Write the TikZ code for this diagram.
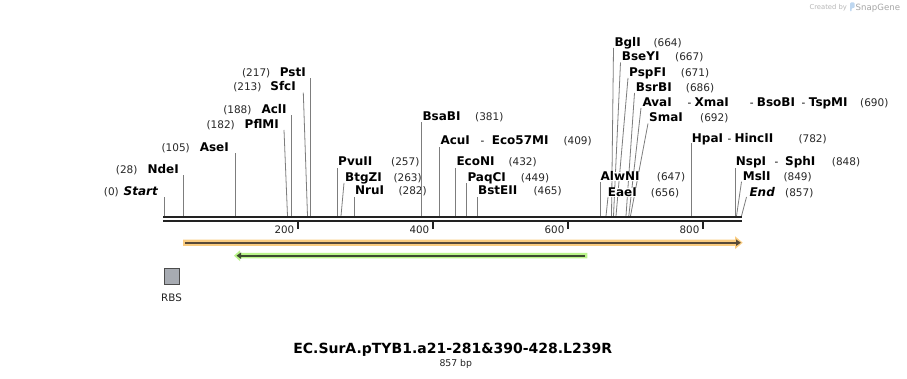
\documentclass[tikz,border=0pt]{standalone}
\usepackage{fontspec}
\setmainfont{DejaVu Sans}
\definecolor{sitegray}{RGB}{125,125,125}
\definecolor{bb}{RGB}{34,34,34}
\definecolor{orlight}{RGB}{250,204,128}
\definecolor{ordark}{RGB}{88,74,56}
\definecolor{grlight}{RGB}{186,244,138}
\definecolor{grdark}{RGB}{60,74,48}
\definecolor{rbsfill}{RGB}{167,171,178}
\definecolor{numcol}{RGB}{40,40,40}
\definecolor{logoblue}{RGB}{190,215,240}
\tikzset{
  site/.style={draw=sitegray, line width=0.8pt},
  enz/.style={font=\fontsize{12}{13}\selectfont\bfseries, inner sep=0pt, fill=white, text=black},
  num/.style={font=\fontsize{10.5}{12}\selectfont, inner sep=0pt, text=numcol},
  dsh/.style={font=\fontsize{10.5}{12}\selectfont, inner sep=0pt, text=black},
  ticklab/.style={font=\fontsize{10.3}{12}\selectfont, inner sep=0pt, text=bb},
}
% right-side label: id, site x, top x, top y, name x, centre y, name, number x, number
\newcommand{\rsite}[9]{%
  \coordinate (#1b) at (#2,216);
  \coordinate (#1t) at (#3,#4);
  \draw[site] (#1b) -- (#1t);
  \node[enz,anchor=base west] (#1) at (#5,#6+4.3) {#7};
  \node[num,anchor=base west] (#1n) at (#8,#6+4.3) {#9};}
% left-side label: id, site x, top x, top y, name right x, centre y, name, number right x, number
\newcommand{\lsite}[9]{%
  \coordinate (#1b) at (#2,216);
  \coordinate (#1t) at (#3,#4);
  \draw[site] (#1b) -- (#1t);
  \node[enz,anchor=base east] (#1) at (#5,#6+4.3) {#7};
  \node[num,anchor=base east] (#1n) at (#8,#6+4.3) {#9};}
\begin{document}
\begin{tikzpicture}[x=1pt,y=-1pt]
\useasboundingbox[fill=white] (0,0) rectangle (907,379);

% left group
\lsite{start}{164}{164}{197}{158}{191}{\itshape Start}{119}{(0)}
\lsite{ndei}{183}{183}{175}{179}{169}{NdeI}{137.7}{(28)}
\lsite{asei}{235}{235}{153}{229}{147.7}{AseI}{190}{(105)}
\lsite{pflmi}{287.5}{284}{130}{279}{124}{PflMI}{235}{(182)}
\lsite{acli}{291}{291}{115}{286.7}{109.3}{AclI}{251.7}{(188)}
\lsite{sfci}{307.5}{303.3}{92.7}{296}{86.7}{SfcI}{261.7}{(213)}
\lsite{psti}{310.5}{310.5}{78.3}{306}{72}{PstI}{270.5}{(217)}

% middle group
\rsite{pvuii}{337}{337}{168}{338}{161.7}{PvuII}{391}{(257)}
\rsite{btgzi}{341}{344}{183}{345}{177.3}{BtgZI}{393.3}{(263)}
\rsite{nrui}{354}{354}{196.7}{355}{190.7}{NruI}{398.3}{(282)}
\rsite{bsabi}{421.5}{421.5}{121.7}{422.3}{116}{BsaBI}{475}{(381)}
\rsite{acui}{439.5}{439.5}{146.7}{440.3}{140}{AcuI}{563.3}{(409)}
\node[dsh,anchor=base west] (acuid) at (480.5,144.3) {-};
\node[enz,anchor=base west] (eco57mi) at (491.7,144.3) {Eco57MI};
\rsite{econi}{455}{455}{168.3}{456.3}{161.7}{EcoNI}{508.3}{(432)}
\rsite{paqci}{466.5}{466.5}{183.3}{467.3}{177.3}{PaqCI}{520.7}{(449)}
\rsite{bsteii}{477.3}{477.3}{196.7}{478}{190.7}{BstEII}{533.3}{(465)}

% right upper stack
\rsite{bgli}{611.5}{613.5}{48}{614.3}{42.7}{BglI}{653.3}{(664)}
\rsite{bseyi}{613.5}{620.5}{62.5}{621.7}{56.7}{BseYI}{675}{(667)}
\rsite{pspfi}{616}{628}{78}{629}{72.3}{PspFI}{680.7}{(671)}
\rsite{bsrbi}{626}{634.5}{93}{635.7}{87.3}{BsrBI}{685.7}{(686)}
\rsite{avai}{628.8}{641}{108}{642.3}{102.3}{AvaI}{860}{(690)}
\node[dsh,anchor=base west] (avaid1) at (687.3,106.6) {-};
\node[enz,anchor=base west] (xmai) at (694.3,106.6) {XmaI};
\node[dsh,anchor=base west] (avaid2) at (749.7,106.6) {-};
\node[enz,anchor=base west] (bsobi) at (756.7,106.6) {BsoBI};
\node[dsh,anchor=base west] (avaid3) at (801.3,106.6) {-};
\node[enz,anchor=base west] (tspmi) at (808.7,106.6) {TspMI};
\rsite{smai}{630.5}{648}{123.5}{649}{117.7}{SmaI}{700}{(692)}

% right lower
\rsite{alwni}{600.5}{600.5}{182}{600.5}{176.7}{AlwNI}{656.7}{(647)}
\rsite{eaei}{606}{608}{197}{607.7}{192.3}{EaeI}{650.7}{(656)}
\rsite{hpai}{691}{691}{143.3}{691.7}{138.3}{HpaI}{798.3}{(782)}
\node[dsh,anchor=base west] (hpaid) at (727.3,142.6) {-};
\node[enz,anchor=base west] (hincii) at (734.3,142.6) {HincII};
\rsite{nspi}{735.5}{735.5}{168}{735.7}{161.7}{NspI}{831.7}{(848)}
\node[dsh,anchor=base west] (nspid) at (774.5,166) {-};
\node[enz,anchor=base west] (sphi) at (785,166) {SphI};
\rsite{msli}{736.5}{741.5}{181.7}{742.7}{176.7}{MslI}{783.3}{(849)}
\rsite{end}{741.5}{746.5}{197}{749.3}{192.3}{\itshape End}{785}{(857)}

% backbone
\draw[bb, line width=2.6pt] (163,217.2) -- (741.5,217.2);
\draw[bb, line width=2pt] (163,221.3) -- (741.5,221.3);

% ticks
\foreach \v/\xx in {200/298,400/433,600/568,800/703}{
  \draw[bb, line width=1.8pt] (\xx,221) -- (\xx,229.5);
  \node[ticklab,anchor=base east] (t\v) at (\xx-3.5,233.3) {\v};
}

% orange feature (forward)
\fill[orlight] (183,239.6) -- (735,239.6) -- (735,236.3) -- (742.7,242.7) -- (735,249.1) -- (735,245.8) -- (183,245.8) -- cycle;
\draw[ordark, line width=2pt] (185,242.7) -- (737,242.7);
\fill[ordark] (736,239.4) -- (740.8,242.7) -- (736,246) -- cycle;

% green feature (reverse)
\fill[grlight] (587.3,252.9) -- (240,252.9) -- (240,250.3) -- (234,255.7) -- (240,261.1) -- (240,258.5) -- (587.3,258.5) -- cycle;
\draw[grdark, line width=2pt] (585,255.7) -- (240,255.7);
\fill[grdark] (241,252.5) -- (236.5,255.7) -- (241,258.9) -- cycle;

% RBS
\node[draw=black!70, fill=rbsfill, line width=0.8pt, minimum width=15pt, minimum height=16pt, inner sep=0pt] (rbs) at (171.5,276) {};
\node[font=\fontsize{10.3}{12}\selectfont, inner sep=0pt, text=bb, anchor=base] (rbsl) at (171.5,301.5) {RBS};

% title
\node[font=\fontsize{14}{16}\selectfont\bfseries, inner sep=0pt, anchor=base] (title) at (452.7,353.5) {EC.SurA.pTYB1.a21-281\&390-428.L239R};
\node[font=\fontsize{9.3}{11}\selectfont, inner sep=0pt, text=bb, anchor=base] (bp) at (455.8,366.8) {857 bp};

% watermark
\node[font=\fontsize{6.8}{8}\selectfont, inner sep=0pt, text=black!28, anchor=base west] (cb) at (809.3,10) {Created by};
\fill[logoblue, rounded corners=1pt] (850,2.5) -- (854.5,2.5) -- (854.5,8) -- (851.5,8) -- (851.5,11.5) -- (850,11.5) -- cycle;
\node[font=\fontsize{8.6}{10}\selectfont, inner sep=0pt, text=black!35, anchor=base west] (sg) at (855.5,10.5) {SnapGene};
\end{tikzpicture}
\end{document}
